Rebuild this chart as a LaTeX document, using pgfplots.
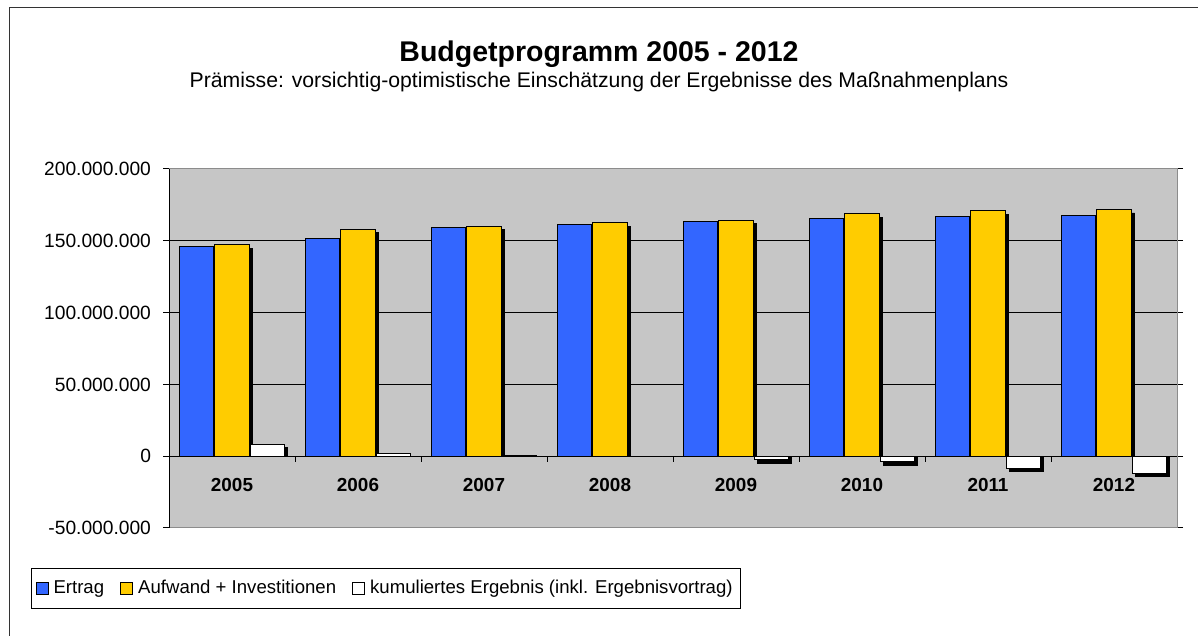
\documentclass[border=0pt]{standalone}
\usepackage{pgfplots}
\pgfplotsset{compat=1.18}
\usepackage{fontspec}
\setmainfont{Liberation Sans}
\definecolor{ertrag}{RGB}{51,102,255}
\definecolor{aufwand}{RGB}{255,204,0}
\definecolor{plotgray}{RGB}{198,198,198}
\definecolor{bordergray}{RGB}{140,140,140}
\begin{document}
\begin{tikzpicture}
\useasboundingbox (0,0) rectangle (599pt,318pt);
% chart frame
\draw[line width=0.5pt, black!80] (4.5pt,0pt) -- (4.5pt,314pt) -- (599pt,314pt);
% titles
\node[anchor=base, font=\fontsize{14.25pt}{16pt}\selectfont\bfseries] at (299.5pt,287pt) {Budgetprogramm 2005 - 2012};
\node[anchor=base, font=\fontsize{10.6pt}{12pt}\selectfont] at (299.5pt,274pt) {Prämisse: vorsichtig-optimistische Einschätzung der Ergebnisse des Maßnahmenplans};
\begin{axis}[
  at={(84.5pt,54pt)}, anchor=south west,
  width=504pt, height=179.5pt, scale only axis,
  xmin=-0.5, xmax=7.5,
  ymin=-50000000, ymax=200000000,
  ytick={-50000000,0,50000000,100000000,150000000,200000000},
  scaled y ticks=false,
  xtick={0,1,2,3,4,5,6,7},
  xticklabels={2005,2006,2007,2008,2009,2010,2011,2012},
  xtick style={draw=none},
  ytick style={draw=black, line width=0.5pt},
  tick align=outside,
  major tick length=3pt,
  ymajorgrids,
  grid style={draw=black, line width=0.5pt},
  axis line style={draw=bordergray, line width=0.5pt},
  axis background/.style={fill=plotgray},
  /pgf/number format/assume math mode=true,
  yticklabel={\pgfmathprintnumber[fixed, precision=0, 1000 sep={.}]{\tick}},
  yticklabel style={font=\fontsize{9.6pt}{11pt}\selectfont, anchor=east, xshift=-2.5pt},
  xticklabel style={font=\fontsize{9.45pt}{11pt}\selectfont\bfseries, anchor=center, yshift=24.5pt},
  ybar, bar width=0.27,
  legend columns=3,
  legend style={at={(-0.1369,-0.2256)}, anchor=south west, draw=black, line width=0.5pt, fill=white,
     font=\fontsize{9.3pt}{11pt}\selectfont, inner xsep=2pt, inner ysep=4pt,
     /tikz/every odd column/.append style={column sep=0.5pt},
     /tikz/every even column/.append style={column sep=6pt}},
  legend image code/.code={\draw[#1, draw=black, line width=0.5pt] (0pt,-3pt) rectangle (6pt,3pt);},
]
% shadows (offset right, top lowered)
\addplot[forget plot, fill=black, draw=black, bar shift=-0.278, xshift=1.75pt] coordinates {
(0,143800000) (1,149200000) (2,156800000) (3,159200000) (4,160800000) (5,163100000) (6,164300000) (7,165200000)};
\addplot[forget plot, fill=black, draw=black, bar shift=0, xshift=1.75pt] coordinates {
(0,144700000) (1,155700000) (2,157800000) (3,160100000) (4,161900000) (5,166300000) (6,168500000) (7,169400000)};
\addplot[forget plot, fill=black, draw=black, bar shift=0.278, xshift=1.75pt] coordinates {
(0,6000000) (1,0) (2,0) (3,0) (4,-4900000) (5,-6400000) (6,-10800000) (7,-14400000)};
% bars
\addplot[fill=ertrag, draw=black, line width=0.5pt, bar shift=-0.278] coordinates {
(0,146200000) (1,151600000) (2,159200000) (3,161600000) (4,163200000) (5,165500000) (6,166700000) (7,167600000)};
\addlegendentry{Ertrag}
\addplot[fill=aufwand, draw=black, line width=0.5pt, bar shift=0] coordinates {
(0,147100000) (1,158100000) (2,160200000) (3,162500000) (4,164300000) (5,168700000) (6,170900000) (7,171800000)};
\addlegendentry{Aufwand + Investitionen}
\addplot[fill=white, draw=black, line width=0.5pt, bar shift=0.278] coordinates {
(0,8400000) (1,2000000) (2,600000) (3,0) (4,-2500000) (5,-4000000) (6,-8400000) (7,-12000000)};
\addlegendentry{kumuliertes Ergebnis (inkl. Ergebnisvortrag)}
% left axis line and category ticks on the zero line
\draw[black, line width=0.5pt] (rel axis cs:0,0) -- (rel axis cs:0,1);
\pgfplotsinvokeforeach{0.5,1.5,2.5,3.5,4.5,5.5,6.5}{
  \draw[black, line width=0.5pt] (axis cs:#1,0) -- ([yshift=-3pt]axis cs:#1,0);
}
\end{axis}
\end{tikzpicture}
\end{document}
